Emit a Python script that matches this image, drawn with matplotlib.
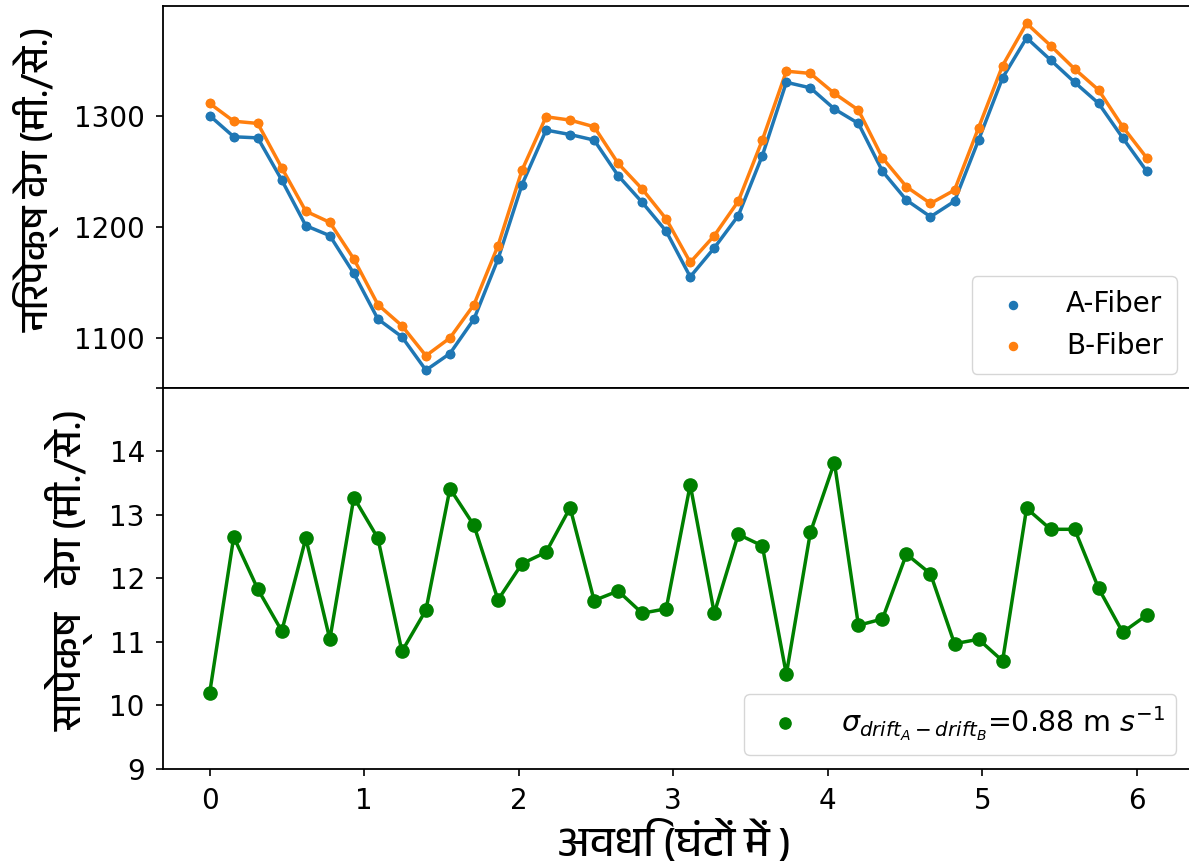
import numpy as np
import matplotlib
matplotlib.use('Agg')
import matplotlib.pyplot as plt
from matplotlib import font_manager
from matplotlib.ft2font import FT2Font

# sampling step (hours) and number of samples
step_h = 0.1555
n_samples = 40
hours = np.arange(n_samples) * step_h

a_fiber = [1300, 1281, 1280, 1242, 1201, 1192, 1158, 1117, 1101, 1071,
           1086, 1117, 1171, 1238, 1287, 1283, 1278, 1246, 1222, 1196,
           1155, 1181, 1210, 1264, 1330, 1325, 1306, 1293, 1250, 1224,
           1209, 1223, 1278, 1334, 1370, 1350, 1330, 1311, 1280, 1250]
b_fiber = [1311, 1295, 1293, 1253, 1214, 1204, 1171, 1130, 1111, 1084,
           1100, 1130, 1183, 1251, 1299, 1296, 1290, 1257, 1234, 1207,
           1168, 1192, 1223, 1278, 1340, 1338, 1320, 1305, 1262, 1236,
           1221, 1233, 1289, 1345, 1383, 1363, 1342, 1323, 1290, 1262]
rel_drift = [10.20, 12.65, 11.83, 11.17, 12.63, 11.04, 13.27, 12.63, 10.85, 11.50,
             13.41, 12.83, 11.66, 12.23, 12.41, 13.11, 11.65, 11.80, 11.45, 11.52,
             13.47, 11.45, 12.69, 12.51, 10.49, 12.72, 13.82, 11.26, 11.36, 12.38,
             12.07, 10.97, 11.04, 10.70, 13.10, 12.77, 12.77, 11.84, 11.15, 11.42]

ylabel_top = 'निरपेक्ष वेग (मी./से.)'
ylabel_bot = 'सापेक्ष   वेग (मी./से.)'
xlabel_bot = 'अवधि (घंटों में )'
drift_label = r'$\sigma_{drift_A-drift_B}$=0.88 m $s^{-1}$'


# look for an installed font with devanagari glyphs, prefer a proportional one
def find_devanagari_font():
    found = []
    for f in font_manager.fontManager.ttflist:
        try:
            if 0x0905 in FT2Font(f.fname).get_charmap():
                found.append(f.name)
        except Exception:
            pass
    if not found:
        return None
    found.sort(key=lambda n: ('Mono' in n, 'Devanagari' not in n, n))
    return found[0]


dev_font = find_devanagari_font()
hindi_family = [dev_font, 'DejaVu Sans'] if dev_font else ['DejaVu Sans']

plt.rcParams['font.size'] = 20
plt.rcParams['axes.linewidth'] = 1.3

fig, (ax1, ax2) = plt.subplots(2, 1, figsize=(11.89, 8.65), dpi=100, sharex=True)
fig.subplots_adjust(left=0.137, right=1.02, top=0.993, bottom=0.111, hspace=0)

# top: absolute velocity of both fibers
ax1.plot(hours, a_fiber, color='#1f77b4', lw=2.5, marker='o', ms=6)
ax1.plot(hours, b_fiber, color='#ff7f0e', lw=2.5, marker='o', ms=6)
ax1.scatter(hours, a_fiber, color='#1f77b4', s=34, label='A-Fiber', zorder=3)
ax1.scatter(hours, b_fiber, color='#ff7f0e', s=34, label='B-Fiber', zorder=3)
ax1.set_yticks([1100, 1200, 1300])
ax1.tick_params(axis='x', bottom=False, labelbottom=False)
ax1.tick_params(axis='y', length=5, width=1.2, pad=8)
ax1.set_ylabel(ylabel_top, family=hindi_family, fontsize=28, va='center')
ax1.yaxis.set_label_coords(-0.12, 0.547)
ax1.legend(loc='lower right', fontsize=20, handletextpad=0.9, borderpad=0.5,
           bbox_to_anchor=(0.979, 0.0))

# bottom: relative velocity
ax2.plot(hours, rel_drift, color='green', lw=2.5, marker='o', ms=9.5, label=drift_label)
ax2.set_ylim(9, 15)
ax2.set_xlim(-0.303, 6.492)
ax2.set_yticks(range(9, 16))
ax2.set_yticklabels([str(v) for v in range(9, 15)] + [''])
ax2.set_xticks(range(0, 7))
ax2.tick_params(length=5, width=1.2, pad=8)
ax2.set_ylabel(ylabel_bot, family=hindi_family, fontsize=29, va='center')
ax2.yaxis.set_label_coords(-0.0886, 0.521)
ax2.set_xlabel(xlabel_bot, family=hindi_family, fontsize=30, va='center')
ax2.xaxis.set_label_coords(0.487, -0.19)
ax2.legend(loc='lower right', fontsize=20.5, handlelength=2.1, handletextpad=0.9,
           markerscale=0.85, bbox_to_anchor=(0.979, 0.0))
for line in ax2.get_legend().get_lines():
    line.set_linestyle('none')

plt.savefig('out.png')
